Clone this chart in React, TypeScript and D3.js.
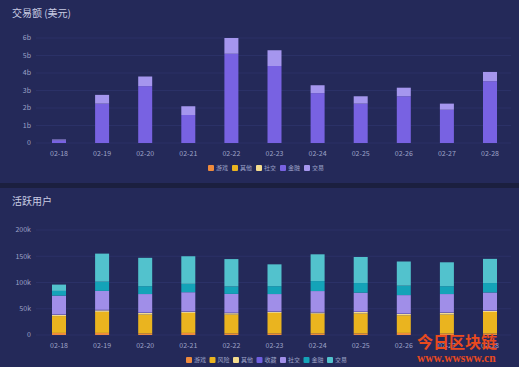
import * as d3 from "d3";

const dates = ["02-18", "02-19", "02-20", "02-21", "02-22", "02-23", "02-24", "02-25", "02-26", "02-27", "02-28"];

// 交易额 (billions of USD)
const volumeKeys = ["游戏", "其他", "社交", "金融", "交易"];
const volumeColors = ["#ef8a3c", "#eab41f", "#f4dc8e", "#7862e2", "#a596ee"];
const volGame = [0, 0, 0, 0, 0, 0, 0, 0, 0, 0, 0];
const volOther = [0, 0, 0, 0, 0, 0, 0, 0, 0, 0, 0];
const volSocial = [0, 0, 0, 0, 0, 0, 0, 0, 0, 0, 0];
const volFinance = [0.15, 2.25, 3.25, 1.6, 5.1, 4.4, 2.85, 2.25, 2.67, 1.9, 3.53];
const volExchange = [0.05, 0.5, 0.55, 0.5, 0.9, 0.9, 0.45, 0.42, 0.49, 0.35, 0.53];
const volumeTicks = [0, 1, 2, 3, 4, 5, 6];

// 活跃用户 (thousands)
const userKeys = ["游戏", "风险", "其他", "收藏", "社交", "金融", "交易"];
const userColors = ["#ef8a3c", "#eab41f", "#f4dc8e", "#6f5fe0", "#a08ee8", "#14a3b8", "#52c2cd"];
const usrGame = [4, 4, 3, 4, 3, 3, 3, 3, 4, 3, 3];
const usrRisk = [32, 40, 36, 38, 36, 39, 37.5, 38, 33.5, 36, 40.8];
const usrOther = [2.6, 3, 3, 2.5, 2.6, 2.4, 2.4, 2.8, 2.5, 3.5, 2.2];
const usrCollect = [1, 1, 1, 1, 1, 1, 1, 1, 1, 1, 1];
const usrSocial = [35.4, 36, 35, 36, 35.7, 32.6, 39.8, 35.8, 35, 34.5, 34];
const usrFinance = [9, 17.6, 15, 16, 14.3, 15, 19, 18.4, 18, 15, 18];
const usrExchange = [12, 53.4, 54, 52.5, 52, 41.6, 51, 49.6, 46, 45.5, 46];
const userTicks = [0, 50, 100, 150, 200];

const W = 519;
const H = 367;
const font = "'Noto Sans CJK SC', 'Noto Sans', sans-serif";
const axisColor = "#9ea3c8";
const gridColor = "#2b3167";

type Row = Record<string, number | string>;

function buildRows(keys: string[], series: number[][]): Row[] {
  return dates.map((d, i) => {
    const r: Row = { date: d };
    keys.forEach((k, j) => (r[k] = series[j][i]));
    return r;
  });
}

interface PanelProps {
  top: number;
  title: string;
  keys: string[];
  colors: string[];
  rows: Row[];
  ticks: number[];
  fmt: (v: number) => string;
  y0: number;
  y1: number;
  legendX: number;
  legendStep: number;
  legendY: number;
  labelY: number;
}

function Panel(p: PanelProps) {
  const x = d3.scalePoint<string>().domain(dates).range([59, 490]);
  const y = d3
    .scaleLinear()
    .domain([0, p.ticks[p.ticks.length - 1]])
    .range([p.y0, p.y1]);
  const stack = d3.stack<Row>().keys(p.keys).value((d, k) => d[k] as number);
  const layers = stack(p.rows);
  const barW = 14;
  return (
    <g>
      <text x={12} y={p.top + 17} fill="#c9cce3" fontSize={10} fontFamily={font}>
        {p.title}
      </text>
      {p.ticks.map((t) => (
        <g key={t}>
          <line x1={36} x2={511} y1={y(t)} y2={y(t)} stroke={gridColor} strokeWidth={1} />
          <text x={31} y={y(t)} dy="0.35em" textAnchor="end" fill={axisColor} fontSize={7} fontFamily={font}>
            {p.fmt(t)}
          </text>
        </g>
      ))}
      {layers.map((layer, li) => (
        <g key={p.keys[li]} fill={p.colors[li]}>
          {layer.map((d) => {
            const h = y(d[0]) - y(d[1]);
            if (h <= 0) return null;
            return (
              <rect
                key={String(d.data.date)}
                x={(x(String(d.data.date)) as number) - barW / 2}
                y={y(d[1])}
                width={barW}
                height={h}
              />
            );
          })}
        </g>
      ))}
      {dates.map((d) => (
        <text key={d} x={x(d)} y={p.labelY} textAnchor="middle" fill={axisColor} fontSize={7} fontFamily={font}>
          {d}
        </text>
      ))}
      {p.keys.map((k, i) => (
        <g key={k} transform={`translate(${p.legendX + i * p.legendStep},${p.legendY})`}>
          <rect x={0} y={-3} width={6} height={6} rx={1} fill={p.colors[i]} />
          <text x={8} y={0} dy="0.35em" fill={axisColor} fontSize={6} fontFamily={font}>
            {k}
          </text>
        </g>
      ))}
    </g>
  );
}

export default function App() {
  const volumeRows = buildRows(volumeKeys, [volGame, volOther, volSocial, volFinance, volExchange]);
  const userRows = buildRows(userKeys, [usrGame, usrRisk, usrOther, usrCollect, usrSocial, usrFinance, usrExchange]);
  return (
    <svg
      width={W}
      height={H}
      viewBox={`0 0 ${W} ${H}`}
      style={{ position: "fixed", left: 0, top: 0, display: "block" }}
    >
      <rect x={0} y={0} width={W} height={H} fill="#1b1f3f" />
      <rect x={0} y={0} width={W} height={183} fill="#242959" />
      <rect x={0} y={188} width={W} height={H - 188} fill="#242959" />
      <Panel
        top={0}
        title="交易额 (美元)"
        keys={volumeKeys}
        colors={volumeColors}
        rows={volumeRows}
        ticks={volumeTicks}
        fmt={(v) => (v === 0 ? "0" : `${v}b`)}
        y0={143}
        y1={38}
        legendX={208}
        legendStep={24}
        legendY={168}
        labelY={156}
      />
      <Panel
        top={188}
        title="活跃用户"
        keys={userKeys}
        colors={userColors}
        rows={userRows}
        ticks={userTicks}
        fmt={(v) => (v === 0 ? "0" : `${v}k`)}
        y0={335}
        y1={230}
        legendX={186}
        legendStep={23.5}
        legendY={360}
        labelY={348}
      />
      <text x={417} y={348} fill="#ea4a1e" fontSize={16} fontWeight="bold" fontFamily={font}>
        今日区块链
      </text>
      <text x={417} y={362} fill="#ea4a1e" fontSize={11.5} fontWeight="bold" fontFamily="'Liberation Serif', serif">
        www.wwsww.cn
      </text>
    </svg>
  );
}
